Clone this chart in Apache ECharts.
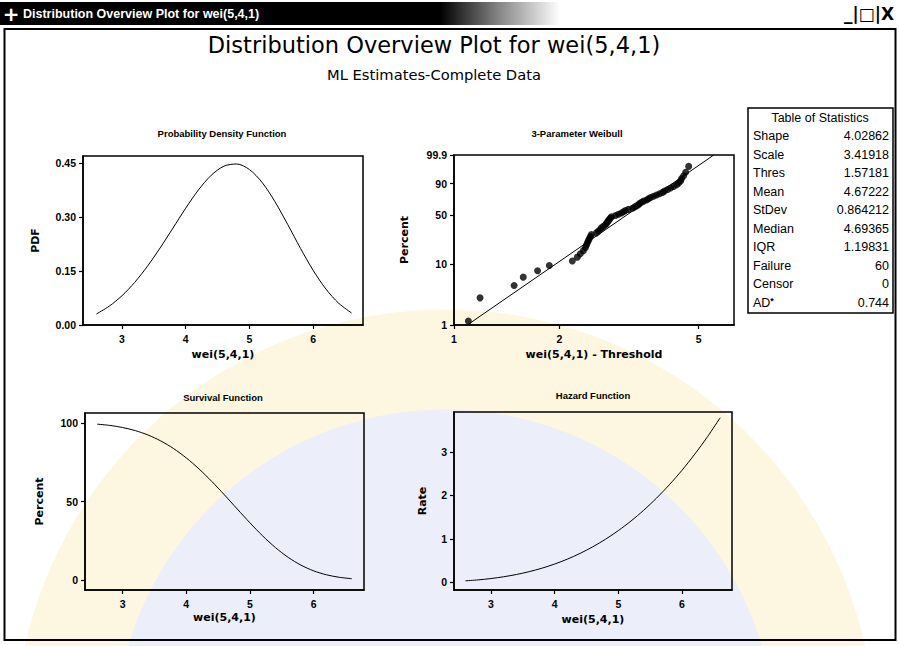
<!DOCTYPE html>
<html><head><meta charset="utf-8">
<script src="https://cdn.jsdelivr.net/npm/echarts@6/dist/echarts.min.js"></script>
<style>
html,body{margin:0;padding:0;background:#fff;}
#c{width:899px;height:646px;background:radial-gradient(circle at 445px 740px,#eceef9 0,#eceef9 330px,#fdf7e2 331px,#fdf7e2 430px,#ffffff 431px);}
</style>
</head><body><div id="c"></div><script>
// ---- data ----
const xGrid = [2.6,2.8,3.0,3.2,3.4,3.6,3.8,4.0,4.2,4.4,4.6,4.8,5.0,5.2,5.4,5.6,5.8,6.0,6.2,6.4,6.6];
const pdfValues = [0.0307,0.0522,0.0813,0.1184,0.1633,0.2145,0.2695,0.3248,0.3756,0.4163,0.4418,0.4478,0.4323,0.3960,0.3429,0.2794,0.2132,0.1515,0.0997,0.0604,0.0335];
const survivalPercent = [99.21,98.40,97.07,95.09,92.29,88.52,83.68,77.73,70.72,62.78,54.17,45.24,36.40,28.08,20.67,14.44,9.51,5.88,3.38,1.80,0.88];
const hazardRate = [0.031,0.053,0.084,0.125,0.177,0.242,0.322,0.418,0.531,0.663,0.816,0.990,1.188,1.410,1.659,1.936,2.242,2.578,2.948,3.350,3.789];
const weibullTime = [1.099,1.187,1.485,1.577,1.733,1.872,2.178,2.251,2.296,2.342,2.373,2.389,2.405,2.421,2.437,2.453,2.470,2.552,2.586,2.620,2.638,2.673,2.708,2.726,2.744,2.762,2.781,2.799,2.818,2.893,2.951,3.010,3.050,3.090,3.152,3.236,3.280,3.323,3.367,3.389,3.434,3.480,3.549,3.596,3.644,3.717,3.791,3.867,3.945,3.997,4.077,4.158,4.242,4.327,4.384,4.442,4.471,4.531,4.591,4.683];
const weibullPercent = [1.16,2.81,4.47,6.13,7.78,9.44,11.09,12.75,14.40,16.06,17.72,19.37,21.03,22.68,24.34,25.99,27.65,29.30,30.96,32.62,34.27,35.93,37.58,39.24,40.89,42.55,44.21,45.86,47.52,49.17,50.83,52.48,54.14,55.79,57.45,59.11,60.76,62.42,64.07,65.73,67.38,69.04,70.70,72.35,74.01,75.66,77.32,78.97,80.63,82.28,83.94,85.60,87.25,88.91,90.56,92.22,93.87,95.53,97.19,98.84];
const fitTime = [1.0915, 5.524];
const fitPercent = [1, 99.9];
const xTicks = [3,4,5,6];
const pdfYTicks = [0,0.15,0.30,0.45];
const survYTicks = [0,50,100];
const hazYTicks = [0,1,2,3];
const probXTicks = [1,2,5];
const probYTicks = [1,10,50,90,99.9];
const statNames = ['Shape','Scale','Thres','Mean','StDev','Median','IQR','Failure','Censor','AD*'];
const statValues = ['4.02862','3.41918','1.57181','4.67222','0.864212','4.69365','1.19831','60','0','0.744'];

// ---- helpers ----
const tx = t => Math.log10(t);
const ty = p => Math.log(-Math.log(1 - p/100));
const zip = (a,b) => a.map((v,i)=>[v,b[i]]);
const labelFont = {color:'#000',fontSize:10.5,fontWeight:'bold',fontFamily:'Liberation Sans'};
const nameFont = {color:'#000',fontSize:11,fontWeight:'bold',fontFamily:'DejaVu Sans'};
function axis(gi, min, max, ticks, fmt, name, gap, isY, tickVals){
  const vals = tickVals || ticks;
  return {
    type:'value', gridIndex:gi, min:min, max:max,
    name:name, nameLocation:'middle', nameGap:gap, nameTextStyle:nameFont,
    axisLine:{show:true,onZero:false,lineStyle:{color:'#000',width:1.5}},
    axisTick:{show:true,inside:false,length:4,customValues:vals,lineStyle:{color:'#000',width:1.2}},
    axisLabel:Object.assign({margin:isY?7:8,customValues:vals,formatter:fmt},labelFont),
    splitLine:{show:false}
  };
}
const gridStyle = {show:true,borderColor:'#000',borderWidth:1.5,backgroundColor:'transparent'};
const lineStyle = {color:'#000',width:1};

const probXVals = probXTicks.map(tx);
const probYVals = probYTicks.map(ty);
const lookup = (vals, labels) => v => { let b=0; vals.forEach((x,i)=>{ if(Math.abs(x-v)<Math.abs(vals[b]-v)) b=i; }); return String(labels[b]); };

const graphics = [];
// title bar
graphics.push({type:'rect',shape:{x:0,y:2,width:440,height:23},style:{fill:'#000'}});
graphics.push({type:'rect',shape:{x:440,y:2,width:120,height:23},style:{fill:new echarts.graphic.LinearGradient(0,0,1,0,[{offset:0,color:'#000'},{offset:0.5,color:'#888'},{offset:1,color:'#fff'}])}});
graphics.push({type:'text',x:11,y:14,style:{text:'+',fill:'#fff',font:'bold 20px DejaVu Sans',align:'center',verticalAlign:'middle'}});
graphics.push({type:'text',x:23,y:14,style:{text:'Distribution Overview Plot for wei(5,4,1)',fill:'#fff',font:'bold 12.5px Liberation Sans',align:'left',verticalAlign:'middle'}});
graphics.push({type:'text',x:894,y:14,style:{text:'_|□|X',fill:'#000',font:'bold 17px DejaVu Sans',align:'right',verticalAlign:'middle'}});
// window frame
graphics.push({type:'rect',shape:{x:4.5,y:29,width:891,height:611},style:{fill:'none',stroke:'#000',lineWidth:2}});
// titles
graphics.push({type:'text',x:434,y:45,style:{text:'Distribution Overview Plot for wei(5,4,1)',fill:'#000',font:'22.5px DejaVu Sans',align:'center',verticalAlign:'middle'}});
graphics.push({type:'text',x:434,y:74,style:{text:'ML Estimates-Complete Data',fill:'#000',font:'14.7px DejaVu Sans',align:'center',verticalAlign:'middle'}});
const panelTitles = [['Probability Density Function',222,133],['3-Parameter Weibull',577,133],['Survival Function',223,397],['Hazard Function',593,395]];
panelTitles.forEach(p=>graphics.push({type:'text',x:p[1],y:p[2],style:{text:p[0],fill:'#000',font:'bold 9.5px Liberation Sans',align:'center',verticalAlign:'middle'}}));
// statistics table
graphics.push({type:'rect',shape:{x:748,y:108,width:145,height:205},style:{fill:'#fff',stroke:'#000',lineWidth:1.5}});
graphics.push({type:'text',x:820,y:118,style:{text:'Table of Statistics',fill:'#000',font:'12.5px Liberation Sans',align:'center',verticalAlign:'middle'}});
statNames.forEach((n,i)=>{
  const y = 136 + i*18.5;
  graphics.push({type:'text',x:753,y:y,style:{text:n==='AD*'?'AD{s|*}':n,rich:{s:{fontSize:9,verticalAlign:'top',fontFamily:'Liberation Sans',fontWeight:'bold'}},fill:'#000',font:'12.5px Liberation Sans',align:'left',verticalAlign:'middle'}});
  graphics.push({type:'text',x:889,y:y,style:{text:statValues[i],fill:'#000',font:'12.5px Liberation Sans',align:'right',verticalAlign:'middle'}});
});

const option = {
  animation:false,
  backgroundColor:'transparent',
  grid:[
    Object.assign({left:83,top:156,width:280,height:169},gridStyle),
    Object.assign({left:454,top:155,width:280,height:170},gridStyle),
    Object.assign({left:85,top:413,width:279,height:177},gridStyle),
    Object.assign({left:454,top:412,width:278,height:178},gridStyle)
  ],
  xAxis:[
    axis(0,2.39,6.78,xTicks,v=>String(v),'wei(5,4,1)',24,false),
    axis(1,0,0.8,probXTicks,lookup(probXVals,probXTicks),'wei(5,4,1) - Threshold',24,false,probXVals),
    axis(2,2.41,6.79,xTicks,v=>String(v),'wei(5,4,1)',22,false),
    axis(3,2.42,6.785,xTicks,v=>String(v),'wei(5,4,1)',24,false)
  ],
  yAxis:[
    axis(0,0,0.47,pdfYTicks,v=>v.toFixed(2),'PDF',42,true),
    axis(1,ty(1),ty(99.9),probYTicks,lookup(probYVals,probYTicks),'Percent',44,true,probYVals),
    axis(2,-6.3,106.3,survYTicks,v=>String(Math.round(v)),'Percent',40,true),
    axis(3,-0.18,3.92,hazYTicks,v=>String(Math.round(v)),'Rate',26,true)
  ],
  series:[
    {type:'line',xAxisIndex:0,yAxisIndex:0,data:zip(xGrid,pdfValues),smooth:0.3,symbol:'none',lineStyle:lineStyle},
    {type:'scatter',xAxisIndex:1,yAxisIndex:1,data:zip(weibullTime.map(tx),weibullPercent.map(ty)),symbolSize:7,itemStyle:{color:'#000'}},
    {type:'line',xAxisIndex:1,yAxisIndex:1,data:zip(fitTime.map(tx),fitPercent.map(ty)),symbol:'none',lineStyle:lineStyle},
    {type:'line',xAxisIndex:2,yAxisIndex:2,data:zip(xGrid,survivalPercent),smooth:0.3,symbol:'none',lineStyle:lineStyle},
    {type:'line',xAxisIndex:3,yAxisIndex:3,data:zip(xGrid,hazardRate),smooth:0.3,symbol:'none',lineStyle:lineStyle}
  ],
  graphic:graphics
};
const chart = echarts.init(document.getElementById('c'),null,{renderer:'svg'});
chart.setOption(option);
</script></body></html>
